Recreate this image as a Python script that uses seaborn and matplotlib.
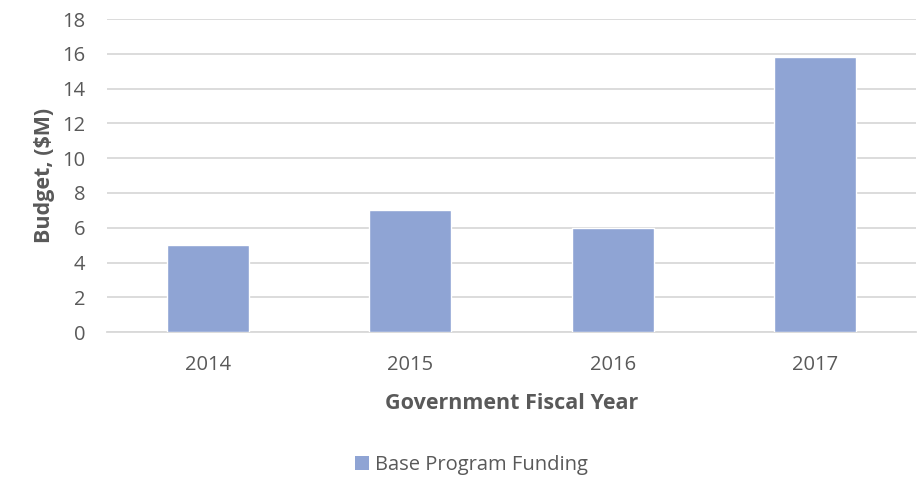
import matplotlib
matplotlib.use("Agg")
import matplotlib.pyplot as plt
import seaborn as sns
import pandas as pd
from matplotlib.patches import Patch

years = ["2014", "2015", "2016", "2017"]
funding = [5.0, 7.0, 6.0, 15.8]
series_name = "Base Program Funding"
yticks = [0, 2, 4, 6, 8, 10, 12, 14, 16, 18]

sns.set_theme(style="white")
plt.rcParams["font.family"] = ["Open Sans", "DejaVu Sans"]

df = pd.DataFrame({"year": years, "value": funding})

bar_color = "#8FA4D4"
text_color = "#595959"

fig = plt.figure(figsize=(9.17, 4.84), dpi=100)
ax = fig.add_axes([0.1167, 0.314, 0.8823, 0.6463])
sns.barplot(data=df, x="year", y="value", color=bar_color, saturation=1,
            width=0.405, ax=ax, zorder=3)

ax.set_ylim(0, 18)
ax.set_xlim(-0.5, 3.5)
ax.set_yticks(yticks)
ax.set_yticklabels([str(t) for t in yticks])
ax.yaxis.grid(True, color="#D9D9D9", linewidth=1.3, zorder=0)
ax.set_axisbelow(True)
for s in ["top", "right", "left"]:
    ax.spines[s].set_visible(False)
ax.spines["bottom"].set_color("#D9D9D9")
ax.spines["bottom"].set_linewidth(1.3)
ax.tick_params(axis="both", length=0, labelsize=14.5, labelcolor=text_color)
ax.tick_params(axis="y", pad=15.5)
ax.tick_params(axis="x", pad=16.5)

ax.set_xlabel("Government Fiscal Year", fontsize=15.5, fontweight="bold",
              color=text_color, labelpad=13)
ax.set_ylabel("Budget, ($M)", fontsize=15.5, fontweight="bold",
              color=text_color, labelpad=5)

handles = [Patch(facecolor=bar_color, edgecolor="none", label=series_name)]
fig.legend(handles=handles, loc="center", bbox_to_anchor=(0.514, 0.04),
           frameon=False, fontsize=14.5, handlelength=0.7, handleheight=0.7,
           handletextpad=0.3, labelcolor=text_color)

fig.savefig("out.png", dpi=100)
